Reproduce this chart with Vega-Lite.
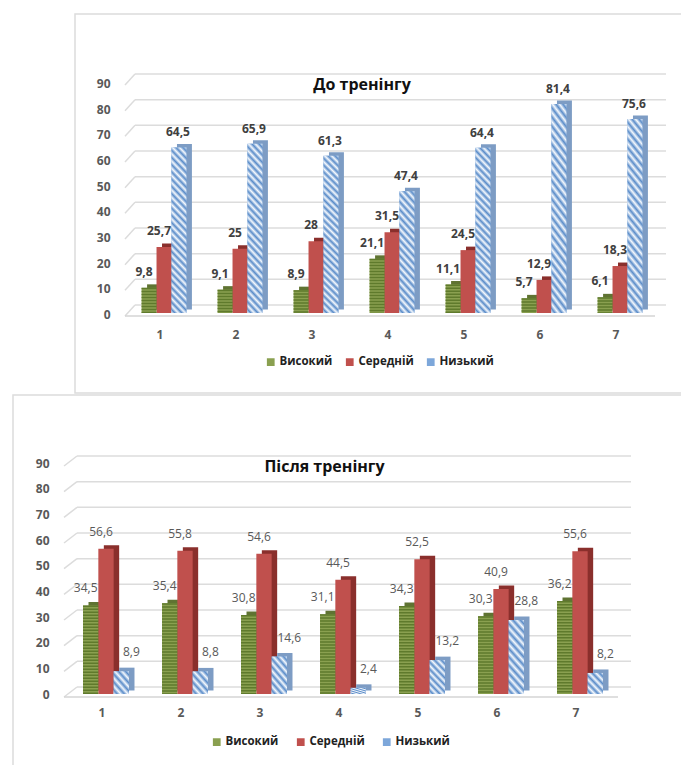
{"$schema":"https://vega.github.io/schema/vega-lite/v6.json","background":"white","padding":{"left":12,"top":13,"right":0,"bottom":0},"spacing":0,
"params":[
{"name":"gA","value":{"gradient":"linear","x1":0,"y1":1,"x2":0.102,"y2":-0.084,"stops":[{"offset":0,"color":"#f4f8fd"},{"offset":0.02,"color":"#5a8cc9"},{"offset":0.04,"color":"#f4f8fd"},{"offset":0.06,"color":"#5a8cc9"},{"offset":0.08,"color":"#f4f8fd"},{"offset":0.1,"color":"#5a8cc9"},{"offset":0.12,"color":"#f4f8fd"},{"offset":0.14,"color":"#5a8cc9"},{"offset":0.16,"color":"#f4f8fd"},{"offset":0.18,"color":"#5a8cc9"},{"offset":0.2,"color":"#f4f8fd"},{"offset":0.22,"color":"#5a8cc9"},{"offset":0.24,"color":"#f4f8fd"},{"offset":0.26,"color":"#5a8cc9"},{"offset":0.28,"color":"#f4f8fd"},{"offset":0.3,"color":"#5a8cc9"},{"offset":0.32,"color":"#f4f8fd"},{"offset":0.34,"color":"#5a8cc9"},{"offset":0.36,"color":"#f4f8fd"},{"offset":0.38,"color":"#5a8cc9"},{"offset":0.4,"color":"#f4f8fd"},{"offset":0.42,"color":"#5a8cc9"},{"offset":0.44,"color":"#f4f8fd"},{"offset":0.46,"color":"#5a8cc9"},{"offset":0.48,"color":"#f4f8fd"},{"offset":0.5,"color":"#5a8cc9"},{"offset":0.52,"color":"#f4f8fd"},{"offset":0.54,"color":"#5a8cc9"},{"offset":0.56,"color":"#f4f8fd"},{"offset":0.58,"color":"#5a8cc9"},{"offset":0.6,"color":"#f4f8fd"},{"offset":0.62,"color":"#5a8cc9"},{"offset":0.64,"color":"#f4f8fd"},{"offset":0.66,"color":"#5a8cc9"},{"offset":0.68,"color":"#f4f8fd"},{"offset":0.7,"color":"#5a8cc9"},{"offset":0.72,"color":"#f4f8fd"},{"offset":0.74,"color":"#5a8cc9"},{"offset":0.76,"color":"#f4f8fd"},{"offset":0.78,"color":"#5a8cc9"},{"offset":0.8,"color":"#f4f8fd"},{"offset":0.82,"color":"#5a8cc9"},{"offset":0.84,"color":"#f4f8fd"},{"offset":0.86,"color":"#5a8cc9"},{"offset":0.88,"color":"#f4f8fd"},{"offset":0.9,"color":"#5a8cc9"},{"offset":0.92,"color":"#f4f8fd"},{"offset":0.94,"color":"#5a8cc9"},{"offset":0.96,"color":"#f4f8fd"},{"offset":0.98,"color":"#5a8cc9"},{"offset":1,"color":"#f4f8fd"}]}},
{"name":"gB","value":{"gradient":"linear","x1":0,"y1":1,"x2":0.152,"y2":-0.116,"stops":[{"offset":0,"color":"#f4f8fd"},{"offset":0.028,"color":"#5a8cc9"},{"offset":0.056,"color":"#f4f8fd"},{"offset":0.083,"color":"#5a8cc9"},{"offset":0.111,"color":"#f4f8fd"},{"offset":0.139,"color":"#5a8cc9"},{"offset":0.167,"color":"#f4f8fd"},{"offset":0.194,"color":"#5a8cc9"},{"offset":0.222,"color":"#f4f8fd"},{"offset":0.25,"color":"#5a8cc9"},{"offset":0.278,"color":"#f4f8fd"},{"offset":0.306,"color":"#5a8cc9"},{"offset":0.333,"color":"#f4f8fd"},{"offset":0.361,"color":"#5a8cc9"},{"offset":0.389,"color":"#f4f8fd"},{"offset":0.417,"color":"#5a8cc9"},{"offset":0.444,"color":"#f4f8fd"},{"offset":0.472,"color":"#5a8cc9"},{"offset":0.5,"color":"#f4f8fd"},{"offset":0.528,"color":"#5a8cc9"},{"offset":0.556,"color":"#f4f8fd"},{"offset":0.583,"color":"#5a8cc9"},{"offset":0.611,"color":"#f4f8fd"},{"offset":0.639,"color":"#5a8cc9"},{"offset":0.667,"color":"#f4f8fd"},{"offset":0.694,"color":"#5a8cc9"},{"offset":0.722,"color":"#f4f8fd"},{"offset":0.75,"color":"#5a8cc9"},{"offset":0.778,"color":"#f4f8fd"},{"offset":0.806,"color":"#5a8cc9"},{"offset":0.833,"color":"#f4f8fd"},{"offset":0.861,"color":"#5a8cc9"},{"offset":0.889,"color":"#f4f8fd"},{"offset":0.917,"color":"#5a8cc9"},{"offset":0.944,"color":"#f4f8fd"},{"offset":0.972,"color":"#5a8cc9"},{"offset":1,"color":"#f4f8fd"}]}},
{"name":"gC","value":{"gradient":"linear","x1":0,"y1":1,"x2":0.27,"y2":-0.17,"stops":[{"offset":0,"color":"#f4f8fd"},{"offset":0.045,"color":"#5a8cc9"},{"offset":0.091,"color":"#f4f8fd"},{"offset":0.136,"color":"#5a8cc9"},{"offset":0.182,"color":"#f4f8fd"},{"offset":0.227,"color":"#5a8cc9"},{"offset":0.273,"color":"#f4f8fd"},{"offset":0.318,"color":"#5a8cc9"},{"offset":0.364,"color":"#f4f8fd"},{"offset":0.409,"color":"#5a8cc9"},{"offset":0.455,"color":"#f4f8fd"},{"offset":0.5,"color":"#5a8cc9"},{"offset":0.545,"color":"#f4f8fd"},{"offset":0.591,"color":"#5a8cc9"},{"offset":0.636,"color":"#f4f8fd"},{"offset":0.682,"color":"#5a8cc9"},{"offset":0.727,"color":"#f4f8fd"},{"offset":0.773,"color":"#5a8cc9"},{"offset":0.818,"color":"#f4f8fd"},{"offset":0.864,"color":"#5a8cc9"},{"offset":0.909,"color":"#f4f8fd"},{"offset":0.955,"color":"#5a8cc9"},{"offset":1,"color":"#f4f8fd"}]}},
{"name":"gD","value":{"gradient":"linear","x1":0,"y1":1,"x2":0.564,"y2":-0.2,"stops":[{"offset":0,"color":"#f4f8fd"},{"offset":0.071,"color":"#5a8cc9"},{"offset":0.143,"color":"#f4f8fd"},{"offset":0.214,"color":"#5a8cc9"},{"offset":0.286,"color":"#f4f8fd"},{"offset":0.357,"color":"#5a8cc9"},{"offset":0.429,"color":"#f4f8fd"},{"offset":0.5,"color":"#5a8cc9"},{"offset":0.571,"color":"#f4f8fd"},{"offset":0.643,"color":"#5a8cc9"},{"offset":0.714,"color":"#f4f8fd"},{"offset":0.786,"color":"#5a8cc9"},{"offset":0.857,"color":"#f4f8fd"},{"offset":0.929,"color":"#5a8cc9"},{"offset":1,"color":"#f4f8fd"}]}},
{"name":"gE","value":{"gradient":"linear","x1":0,"y1":1,"x2":0.84,"y2":-0.12,"stops":[{"offset":0,"color":"#f4f8fd"},{"offset":0.1,"color":"#5a8cc9"},{"offset":0.2,"color":"#f4f8fd"},{"offset":0.3,"color":"#5a8cc9"},{"offset":0.4,"color":"#f4f8fd"},{"offset":0.5,"color":"#5a8cc9"},{"offset":0.6,"color":"#f4f8fd"},{"offset":0.7,"color":"#5a8cc9"},{"offset":0.8,"color":"#f4f8fd"},{"offset":0.9,"color":"#5a8cc9"},{"offset":1,"color":"#f4f8fd"}]}}
],
"datasets":{
"grid":[{"g":0},{"g":10},{"g":20},{"g":30},{"g":40},{"g":50},{"g":60},{"g":70},{"g":80},{"g":90}],
"floor":[{"g":0}],
"before":[
{"cat":"1","s":"Високий","v":9.8,"t":"9,8"},{"cat":"1","s":"Середній","v":25.7,"t":"25,7"},{"cat":"1","s":"Низький","v":64.5,"t":"64,5"},
{"cat":"2","s":"Високий","v":9.1,"t":"9,1"},{"cat":"2","s":"Середній","v":25,"t":"25"},{"cat":"2","s":"Низький","v":65.9,"t":"65,9"},
{"cat":"3","s":"Високий","v":8.9,"t":"8,9"},{"cat":"3","s":"Середній","v":28,"t":"28"},{"cat":"3","s":"Низький","v":61.3,"t":"61,3"},
{"cat":"4","s":"Високий","v":21.1,"t":"21,1"},{"cat":"4","s":"Середній","v":31.5,"t":"31,5"},{"cat":"4","s":"Низький","v":47.4,"t":"47,4"},
{"cat":"5","s":"Високий","v":11.1,"t":"11,1"},{"cat":"5","s":"Середній","v":24.5,"t":"24,5"},{"cat":"5","s":"Низький","v":64.4,"t":"64,4"},
{"cat":"6","s":"Високий","v":5.7,"t":"5,7"},{"cat":"6","s":"Середній","v":12.9,"t":"12,9"},{"cat":"6","s":"Низький","v":81.4,"t":"81,4"},
{"cat":"7","s":"Високий","v":6.1,"t":"6,1"},{"cat":"7","s":"Середній","v":18.3,"t":"18,3"},{"cat":"7","s":"Низький","v":75.6,"t":"75,6"}],
"after":[
{"cat":"1","s":"Високий","v":34.5,"t":"34,5"},{"cat":"1","s":"Середній","v":56.6,"t":"56,6"},{"cat":"1","s":"Низький","v":8.9,"t":"8,9"},
{"cat":"2","s":"Високий","v":35.4,"t":"35,4"},{"cat":"2","s":"Середній","v":55.8,"t":"55,8"},{"cat":"2","s":"Низький","v":8.8,"t":"8,8"},
{"cat":"3","s":"Високий","v":30.8,"t":"30,8"},{"cat":"3","s":"Середній","v":54.6,"t":"54,6"},{"cat":"3","s":"Низький","v":14.6,"t":"14,6"},
{"cat":"4","s":"Високий","v":31.1,"t":"31,1"},{"cat":"4","s":"Середній","v":44.5,"t":"44,5"},{"cat":"4","s":"Низький","v":2.4,"t":"2,4"},
{"cat":"5","s":"Високий","v":34.3,"t":"34,3"},{"cat":"5","s":"Середній","v":52.5,"t":"52,5"},{"cat":"5","s":"Низький","v":13.2,"t":"13,2"},
{"cat":"6","s":"Високий","v":30.3,"t":"30,3"},{"cat":"6","s":"Середній","v":40.9,"t":"40,9"},{"cat":"6","s":"Низький","v":28.8,"t":"28,8"},
{"cat":"7","s":"Високий","v":36.2,"t":"36,2"},{"cat":"7","s":"Середній","v":55.6,"t":"55,6"},{"cat":"7","s":"Низький","v":8.2,"t":"8,2"}]
},
"vconcat":[
{"spacing":0,"hconcat":[
{"width":61,"height":379,"view":{"stroke":null},"data":{"name":"floor"},"mark":{"type":"rule","opacity":0},"encoding":{}},
{"width":608,"height":379,"view":{"stroke":"#dcdcdc","strokeWidth":1.5},
"title":{"text":"До тренінгу","anchor":"middle","frame":"group","offset":-79,"dx":-17,"fontSize":16,"font":"Open Sans","fontWeight":"bold","color":"#111111"},
"resolve":{"scale":{"xOffset":"independent"}},
"layer":[
{"data":{"name":"grid"},"mark":{"type":"rule","color":"#dcdcdc","strokeWidth":1.5,"xOffset":-29,"x2Offset":46,"yOffset":-8,"y2Offset":-8},
"encoding":{"x":{"datum":"1","type":"ordinal","title":null,"scale":{"domain":["1","2","3","4","5","6","7"],"range":[51,583],"paddingInner":0.41,"paddingOuter":0.205},"axis":{"domain":false,"ticks":false,"grid":false,"labelAngle":0,"labelPadding":0,"offset":-64,"labelOffset":-4,"labelFont":"Open Sans","labelFontSize":12,"labelFontWeight":"bold","labelColor":"#595959"}},"x2":{"datum":"7"},"y":{"field":"g","type":"quantitative","title":null,"scale":{"domain":[0,90],"range":[299,68],"nice":false},"axis":{"values":[0,10,20,30,40,50,60,70,80,90],"domain":false,"ticks":false,"grid":false,"labelPadding":0,"offset":-35,"labelOffset":1.5,"labelFont":"Open Sans","labelFontSize":12,"labelFontWeight":"bold","labelColor":"#595959"}}}},
{"data":{"name":"grid"},"mark":{"type":"rule","color":"#dcdcdc","strokeWidth":1.5,"xOffset":-39,"x2Offset":-29,"yOffset":3,"y2Offset":-8},
"encoding":{"x":{"datum":"1","type":"ordinal","title":null},"x2":{"datum":"1"},"y":{"field":"g","type":"quantitative","title":null},"y2":{"field":"g"}}},
{"data":{"name":"floor"},"mark":{"type":"rule","color":"#d4d4d4","strokeWidth":1.5,"xOffset":-39,"x2Offset":35,"yOffset":3,"y2Offset":3},
"encoding":{"x":{"datum":"1","type":"ordinal","title":null},"x2":{"datum":"7"},"y":{"field":"g","type":"quantitative","title":null}}},
{"data":{"name":"before"},"mark":{"type":"bar","yOffset":-3.5},
"encoding":{"x":{"field":"cat","type":"ordinal","title":null},"xOffset":{"field":"s","type":"nominal","scale":{"domain":["Високий","Середній","Низький"],"range":[5.5,50.34]}},"y":{"field":"v","type":"quantitative","title":null},"fill":{"condition":[{"test":"datum.s==='Високий'","value":"#5f7332"},{"test":"datum.s==='Середній'","value":"#8a2f2c"}],"value":"#7d9cc4"}}},
{"data":{"name":"before"},"mark":{"type":"bar"},
"encoding":{"x":{"field":"cat","type":"ordinal","title":null},"xOffset":{"field":"s","type":"nominal","scale":{"domain":["Високий","Середній","Низький"]}},"y":{"field":"v","type":"quantitative","title":null},
"color":{"field":"s","type":"nominal","title":null,"scale":{"domain":["Високий","Середній","Низький"],"range":["#8aa050","#c0504d","#7da7da"]},"legend":{"orient":"none","direction":"horizontal","legendX":190,"legendY":342,"symbolType":"square","symbolSize":60,"symbolOpacity":1,"labelOffset":3,"labelFont":"Open Sans","labelFontSize":11.5,"labelFontWeight":"bold","labelColor":"#222222","columnPadding":11}}}},
{"data":{"name":"before"},"transform":[{"filter":"datum.s==='Високий'"}],"mark":{"type":"rule","strokeWidth":15,"strokeDash":[1.5,1.5],"color":"#5f7a2c"},
"encoding":{"x":{"field":"cat","type":"ordinal","title":null},"xOffset":{"field":"s","type":"nominal","scale":{"domain":["Високий","Середній","Низький"]}},"y":{"field":"v","type":"quantitative","title":null},"y2":{"datum":0}}},
{"data":{"name":"before"},"transform":[{"filter":"datum.s==='Низький'"}],"mark":{"type":"bar"},
"encoding":{"x":{"field":"cat","type":"ordinal","title":null},"xOffset":{"field":"s","type":"nominal","scale":{"domain":["Високий","Середній","Низький"]}},"y":{"field":"v","type":"quantitative","title":null},"fill":{"value":{"expr":"datum.v>=55?gA:datum.v>=35?gB:datum.v>=20?gC:datum.v>=11?gD:gE"}}}},
{"data":{"name":"before"},"transform":[{"filter":"datum.s!=='Низький'"}],"mark":{"type":"text","dx":-5,"dy":-16,"font":"Open Sans","fontSize":12,"fontWeight":"bold","color":"#404040"},
"encoding":{"x":{"field":"cat","type":"ordinal","title":null},"xOffset":{"field":"s","type":"nominal","scale":{"domain":["Високий","Середній","Низький"]}},"y":{"field":"v","type":"quantitative","title":null},"text":{"field":"t"}}},
{"data":{"name":"before"},"transform":[{"filter":"datum.s==='Низький'"}],"mark":{"type":"text","dx":-1,"dy":-15,"font":"Open Sans","fontSize":12,"fontWeight":"bold","color":"#404040"},
"encoding":{"x":{"field":"cat","type":"ordinal","title":null},"xOffset":{"field":"s","type":"nominal","scale":{"domain":["Високий","Середній","Низький"]}},"y":{"field":"v","type":"quantitative","title":null},"text":{"field":"t"}}}
]}
],"resolve":{"scale":{"color":"independent"},"legend":{"color":"independent"}}},
{"width":669,"height":373,"view":{"stroke":"#dcdcdc","strokeWidth":1.5},
"title":{"text":"Після тренінгу","anchor":"middle","frame":"group","offset":-80,"dx":-23,"fontSize":16,"font":"Open Sans","fontWeight":"bold","color":"#111111"},
"resolve":{"scale":{"xOffset":"independent"}},
"layer":[
{"data":{"name":"grid"},"mark":{"type":"rule","color":"#dcdcdc","strokeWidth":1.5,"xOffset":-29,"x2Offset":51,"yOffset":-7,"y2Offset":-7},
"encoding":{"x":{"datum":"1","type":"ordinal","title":null,"scale":{"domain":["1","2","3","4","5","6","7"],"range":[53.5,606.5],"paddingInner":0.418,"paddingOuter":0.209},"axis":{"domain":false,"ticks":false,"grid":false,"labelAngle":0,"labelPadding":0,"offset":-61,"labelOffset":-4,"labelFont":"Open Sans","labelFontSize":12,"labelFontWeight":"bold","labelColor":"#595959"}},"x2":{"datum":"7"},"y":{"field":"g","type":"quantitative","title":null,"scale":{"domain":[0,90],"range":[299,68],"nice":false},"axis":{"values":[0,10,20,30,40,50,60,70,80,90],"domain":false,"ticks":false,"grid":false,"labelPadding":0,"offset":-36,"labelOffset":0,"labelFont":"Open Sans","labelFontSize":12,"labelFontWeight":"bold","labelColor":"#595959"}}}},
{"data":{"name":"grid"},"mark":{"type":"rule","color":"#dcdcdc","strokeWidth":1.5,"xOffset":-42,"x2Offset":-29,"yOffset":3,"y2Offset":-7},
"encoding":{"x":{"datum":"1","type":"ordinal","title":null},"x2":{"datum":"1"},"y":{"field":"g","type":"quantitative","title":null},"y2":{"field":"g"}}},
{"data":{"name":"floor"},"mark":{"type":"rule","color":"#d4d4d4","strokeWidth":1.5,"xOffset":-42,"x2Offset":38,"yOffset":3,"y2Offset":3},
"encoding":{"x":{"datum":"1","type":"ordinal","title":null},"x2":{"datum":"7"},"y":{"field":"g","type":"quantitative","title":null}}},
{"data":{"name":"after"},"mark":{"type":"bar","yOffset":-3.5},
"encoding":{"x":{"field":"cat","type":"ordinal","title":null},"xOffset":{"field":"s","type":"nominal","scale":{"domain":["Високий","Середній","Низький"],"range":[5.5,51.48]}},"y":{"field":"v","type":"quantitative","title":null},"fill":{"condition":[{"test":"datum.s==='Високий'","value":"#5f7332"},{"test":"datum.s==='Середній'","value":"#8a2f2c"}],"value":"#7d9cc4"}}},
{"data":{"name":"after"},"mark":{"type":"bar"},
"encoding":{"x":{"field":"cat","type":"ordinal","title":null},"xOffset":{"field":"s","type":"nominal","scale":{"domain":["Високий","Середній","Низький"]}},"y":{"field":"v","type":"quantitative","title":null},
"color":{"field":"s","type":"nominal","title":null,"scale":{"domain":["Високий","Середній","Низький"],"range":["#8aa050","#c0504d","#7da7da"]},"legend":{"orient":"none","direction":"horizontal","legendX":198,"legendY":341,"symbolType":"square","symbolSize":60,"symbolOpacity":1,"labelOffset":3,"labelFont":"Open Sans","labelFontSize":11.5,"labelFontWeight":"bold","labelColor":"#222222","columnPadding":16}}}},
{"data":{"name":"after"},"transform":[{"filter":"datum.s==='Високий'"}],"mark":{"type":"rule","strokeWidth":15.3,"strokeDash":[1.5,1.5],"color":"#5f7a2c"},
"encoding":{"x":{"field":"cat","type":"ordinal","title":null},"xOffset":{"field":"s","type":"nominal","scale":{"domain":["Високий","Середній","Низький"]}},"y":{"field":"v","type":"quantitative","title":null},"y2":{"datum":0}}},
{"data":{"name":"after"},"transform":[{"filter":"datum.s==='Низький'"}],"mark":{"type":"bar"},
"encoding":{"x":{"field":"cat","type":"ordinal","title":null},"xOffset":{"field":"s","type":"nominal","scale":{"domain":["Високий","Середній","Низький"]}},"y":{"field":"v","type":"quantitative","title":null},"fill":{"value":{"expr":"datum.v>=55?gA:datum.v>=35?gB:datum.v>=20?gC:datum.v>=11?gD:gE"}}}},
{"data":{"name":"after"},"transform":[{"filter":"datum.s!=='Низький'"}],"mark":{"type":"text","dx":-5,"dy":-17,"font":"Open Sans","fontSize":12,"color":"#595959"},
"encoding":{"x":{"field":"cat","type":"ordinal","title":null},"xOffset":{"field":"s","type":"nominal","scale":{"domain":["Високий","Середній","Низький"]}},"y":{"field":"v","type":"quantitative","title":null},"text":{"field":"t"}}},
{"data":{"name":"after"},"transform":[{"filter":"datum.s==='Низький'"}],"mark":{"type":"text","dx":10,"dy":-19,"font":"Open Sans","fontSize":12,"color":"#595959"},
"encoding":{"x":{"field":"cat","type":"ordinal","title":null},"xOffset":{"field":"s","type":"nominal","scale":{"domain":["Високий","Середній","Низький"]}},"y":{"field":"v","type":"quantitative","title":null},"text":{"field":"t"}}}
]}
],
"resolve":{"scale":{"color":"independent"},"legend":{"color":"independent"}}
}
